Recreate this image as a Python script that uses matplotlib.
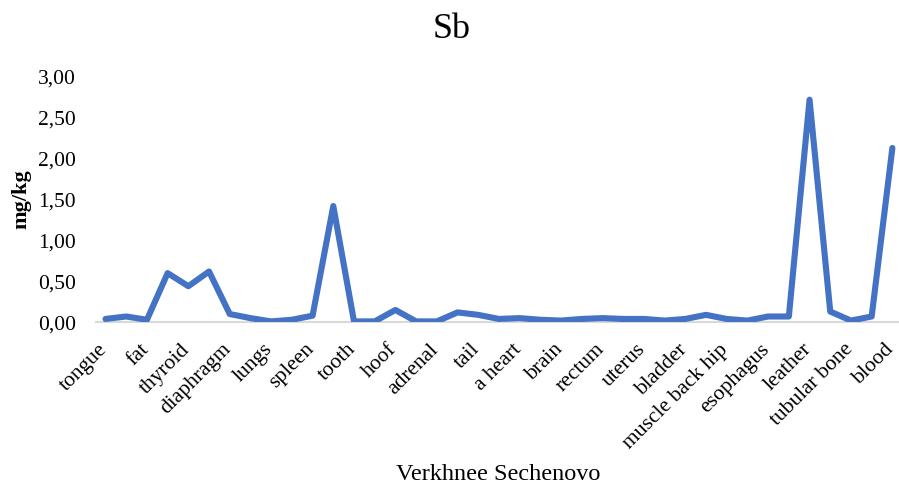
import matplotlib
matplotlib.use("Agg")
import matplotlib.pyplot as plt
import matplotlib.transforms as mtransforms
import numpy as np

tick_labels = ["tongue", "fat", "thyroid", "diaphragm", "lungs", "spleen", "tooth",
               "hoof", "adrenal", "tail", "a heart", "brain", "rectum", "uterus",
               "bladder", "muscle back hip", "esophagus", "leather", "tubular bone", "blood"]
values = [0.04, 0.07, 0.03, 0.60, 0.44, 0.62, 0.10, 0.05, 0.01, 0.03,
          0.08, 1.42, 0.01, 0.01, 0.15, 0.01, 0.01, 0.12, 0.09, 0.04,
          0.05, 0.03, 0.02, 0.04, 0.05, 0.04, 0.04, 0.02, 0.04, 0.09,
          0.04, 0.02, 0.07, 0.07, 2.72, 0.13, 0.02, 0.07, 2.13]
yticks = [0.0, 0.5, 1.0, 1.5, 2.0, 2.5, 3.0]

plt.rcParams['font.family'] = ['Liberation Serif', 'DejaVu Serif']

fig = plt.figure(figsize=(8.99, 4.86), dpi=100)
ax = fig.add_axes([0.107, 0.337, 0.893, 0.505])

x = np.arange(len(values))
ax.plot(x, values, color="#4472C4", linewidth=4.4, solid_joinstyle='round', solid_capstyle='round')

ax.set_ylim(0, 3.0)
ax.set_xlim(-0.45, 38.32)
ax.set_yticks(yticks)
ax.set_yticklabels([f"{v:.2f}".replace(".", ",") for v in yticks], fontsize=15.5)
ax.set_xticks(x[::2])
ax.set_xticklabels(tick_labels, rotation=45, ha='right', va='baseline',
                   rotation_mode='anchor', fontsize=15.5)
ax.tick_params(axis='both', length=0)
ax.tick_params(axis='x', pad=20)
ax.tick_params(axis='y', pad=14.5)
offset = mtransforms.ScaledTranslation(2 / 100, 0, fig.dpi_scale_trans)
for lab in ax.get_xticklabels():
    lab.set_transform(lab.get_transform() + offset)

for s in ['top', 'right', 'left']:
    ax.spines[s].set_visible(False)
ax.spines['bottom'].set_color('#D9D9D9')
ax.spines['bottom'].set_linewidth(1.5)
ax.spines['bottom'].set_zorder(0)

fig.text(0.502, 0.94, "Sb", ha='center', va='center', fontsize=26)
fig.text(0.024, 0.59, "mg/kg", rotation=90, ha='center', va='center', fontsize=16, fontweight='bold')
fig.text(0.554, 0.024, "Verkhnee Sechenovo", ha='center', va='center', fontsize=17.5)

fig.savefig("out.png", dpi=100)
